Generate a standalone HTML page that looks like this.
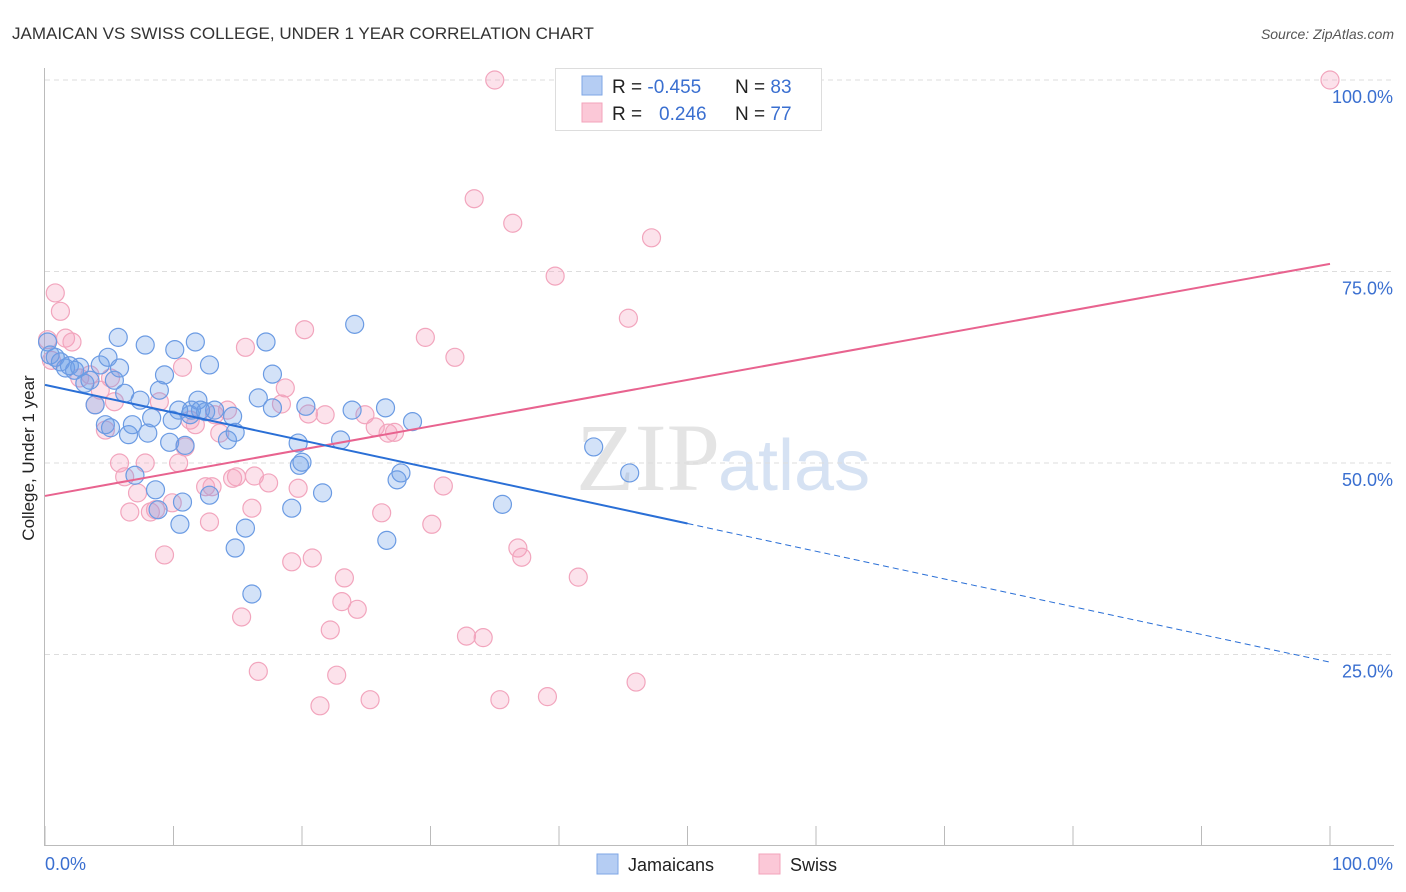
<!DOCTYPE html>
<html><head><meta charset="utf-8"><style>
body{margin:0;background:#fff;font-family:"Liberation Sans",sans-serif}
svg{display:block}
</style></head><body>
<svg id="c" width="1406" height="892">
<text x="12" y="39" font-size="17" fill="#333">JAMAICAN VS SWISS COLLEGE, UNDER 1 YEAR CORRELATION CHART</text>
<text x="1394" y="39" font-size="14" fill="#555" font-style="italic" text-anchor="end">Source: ZipAtlas.com</text>
<text x="720" y="490" font-size="96" fill="#e4e4e4" text-anchor="end" font-family="Liberation Serif">ZIP</text>
<text x="718" y="490" font-size="72" fill="#d6e2f3">atlas</text>
<text transform="translate(34,458) rotate(-90)" font-size="17" fill="#222" text-anchor="middle">College, Under 1 year</text>
<g id="grid"></g><g id="pts"></g><g id="lines"></g>
<g>
<rect x="555.500" y="68.500" width="266" height="62" fill="#fff" stroke="#ddd"/>
<rect x="582" y="76" width="20" height="19" fill="#b5cdf3" stroke="#7ea6e6"/>
<rect x="582" y="103" width="20" height="19" fill="#fbc8d7" stroke="#f3a3bb"/>
<text x="612" y="93" font-size="19" fill="#222">R = <tspan fill="#3a6fd0">-0.455</tspan></text>
<text x="735" y="93" font-size="19" fill="#222">N = <tspan fill="#3a6fd0">83</tspan></text>
<text x="612" y="120" font-size="19" fill="#222">R =  <tspan x="659" fill="#3a6fd0">0.246</tspan></text>
<text x="735" y="120" font-size="19" fill="#222">N = <tspan fill="#3a6fd0">77</tspan></text>
</g>
<g>
<rect x="597" y="854" width="21" height="20" fill="#b5cdf3" stroke="#7ea6e6"/>
<text x="628" y="871" font-size="18" fill="#222">Jamaicans</text>
<rect x="759" y="854" width="21" height="20" fill="#fbc8d7" stroke="#f3a3bb"/>
<text x="790" y="871" font-size="18" fill="#222">Swiss</text>
</g>
</svg>
<script>
const blueX=[0.2,0.4,0.8,1.2,1.6,1.9,2.3,2.7,3.1,3.5,3.9,4.3,4.7,4.9,5.1,5.4,5.7,5.8,6.2,6.5,6.8,7.0,7.4,7.8,8.0,8.3,8.6,8.8,8.9,9.3,9.7,9.9,10.1,10.4,10.5,10.7,10.9,11.3,11.4,11.7,11.9,12.1,12.5,12.8,12.8,13.2,14.2,14.6,14.8,14.8,15.6,16.1,16.6,17.2,17.7,17.7,19.2,19.7,19.8,20.0,20.3,21.6,23.0,23.9,24.1,26.5,26.6,27.4,27.7,28.6,35.6,42.7,45.5];
const blueY=[65.8,64.1,63.8,63.2,62.4,62.7,62.1,62.5,60.4,60.8,57.6,62.8,55.0,63.8,54.6,60.8,66.4,62.4,59.1,53.7,55.0,48.4,58.2,65.4,53.9,55.9,46.5,43.9,59.5,61.5,52.7,55.6,64.8,56.9,42.0,44.9,52.3,56.3,56.9,65.8,58.2,56.9,56.7,62.8,45.8,56.9,53.0,56.1,54.0,38.9,41.5,32.9,58.5,65.8,57.2,61.6,44.1,52.6,49.7,50.1,57.4,46.1,53.0,56.9,68.1,57.2,39.9,47.8,48.7,55.4,44.6,52.1,48.7];
const pinkX=[0.2,0.5,0.8,1.2,1.6,2.1,2.7,3.5,3.9,4.3,4.7,5.1,5.4,5.8,6.2,6.6,7.2,7.8,8.2,8.6,8.9,9.3,9.9,10.4,10.7,10.9,11.3,11.7,12.5,12.8,13.0,13.2,13.6,14.2,14.6,14.9,15.3,15.6,16.1,16.3,16.6,17.4,18.4,18.7,19.2,19.7,20.2,20.5,20.8,21.4,21.8,22.2,22.7,23.1,23.3,24.3,24.9,25.3,25.7,26.2,26.7,27.2,29.6,30.1,31.0,31.9,32.8,33.4,34.1,35.0,35.4,36.4,36.8,37.1,39.1,39.7,41.5,45.4,46.0,47.2,100];
const pinkY=[66.1,63.4,72.2,69.8,66.3,65.8,61.1,61.5,57.6,59.5,54.3,61.1,58.0,50.0,48.2,43.6,46.1,50.0,43.6,43.9,58.0,38.0,44.8,50.0,62.5,52.1,55.6,55.0,46.9,42.3,46.9,56.3,53.9,56.9,48.0,48.2,29.9,65.1,44.1,48.3,22.8,47.4,57.7,59.8,37.1,46.7,67.4,56.4,37.6,18.3,56.3,28.2,22.3,31.9,35.0,30.9,56.3,19.1,54.7,43.5,53.9,54.0,66.4,42.0,47.0,63.8,27.4,84.5,27.2,100,19.1,81.3,38.9,37.7,19.5,74.4,35.1,68.9,21.4,79.4,100];
const yTicks=[25,50,75,100];
const yTickLabels=["25.0%","50.0%","75.0%","100.0%"];
const xTicks=[0,10,20,30,40,50,60,70,80,90,100];
const blueLine=[60.2,-0.362]; // intercept, slope
const pinkLine=[45.7,0.303];
const blueSolidEnd=50;
const NS='http://www.w3.org/2000/svg';
const X=v=>45+v*12.85, Y=v=>846-v*7.66;
function mk(t,a,p){const e=document.createElementNS(NS,t);for(const k in a)e.setAttribute(k,a[k]);p.appendChild(e);return e;}
const g=document.getElementById('grid');
const ax=mk('line',{x1:44.5,y1:68,x2:44.5,y2:846,stroke:'#bbb'},g);


const bx=mk('line',{x1:44,y1:845.5,x2:1394,y2:845.5,stroke:'#bbb'},g);


yTicks.forEach((t,i)=>{
 const l=mk('line',{x1:45,x2:1394,y1:Y(t),y2:Y(t),stroke:'#ddd','stroke-dasharray':'5,4'},g);
 
 
 const tx=mk('text',{x:1393,y:Y(t)+23,'font-size':18,fill:'#3a6fd0','text-anchor':'end'},g);tx.textContent=yTickLabels[i];
 
 
});
xTicks.forEach(t=>{
 const l=mk('line',{x1:X(t),x2:X(t),y1:826,y2:846,stroke:'#bbb'},g);
 
 
});
const x0=mk('text',{x:45,y:870,'font-size':18,fill:'#3a6fd0'},g);x0.textContent='0.0%';


const x1=mk('text',{x:1393,y:870,'font-size':18,fill:'#3a6fd0','text-anchor':'end'},g);x1.textContent='100.0%';


const P=document.getElementById('pts');
pinkX.forEach((x,i)=>{const c=mk('circle',{cx:X(x),cy:Y(pinkY[i]),r:9,fill:'rgba(244,160,188,0.3)',stroke:'#f2a5bd','stroke-width':1.2},P);
 
 });
blueX.forEach((x,i)=>{const c=mk('circle',{cx:X(x),cy:Y(blueY[i]),r:9,fill:'rgba(110,160,232,0.3)',stroke:'#6b9be3','stroke-width':1.2},P);
 
 });
const L=document.getElementById('lines');
const f=(ln,x)=>ln[0]+ln[1]*x;
const pl=mk('line',{x1:X(0),y1:Y(f(pinkLine,0)),x2:X(100),y2:Y(f(pinkLine,100)),stroke:'#e8638f','stroke-width':2},L);


const bl=mk('line',{x1:X(0),y1:Y(f(blueLine,0)),x2:X(blueSolidEnd),y2:Y(f(blueLine,blueSolidEnd)),stroke:'#2a6fd6','stroke-width':2},L);


const bd=mk('line',{x1:X(blueSolidEnd),y1:Y(f(blueLine,blueSolidEnd)),x2:X(100),y2:Y(f(blueLine,100)),stroke:'#2a6fd6','stroke-width':1,'stroke-dasharray':'6,4'},L);


</script>
</body></html>
